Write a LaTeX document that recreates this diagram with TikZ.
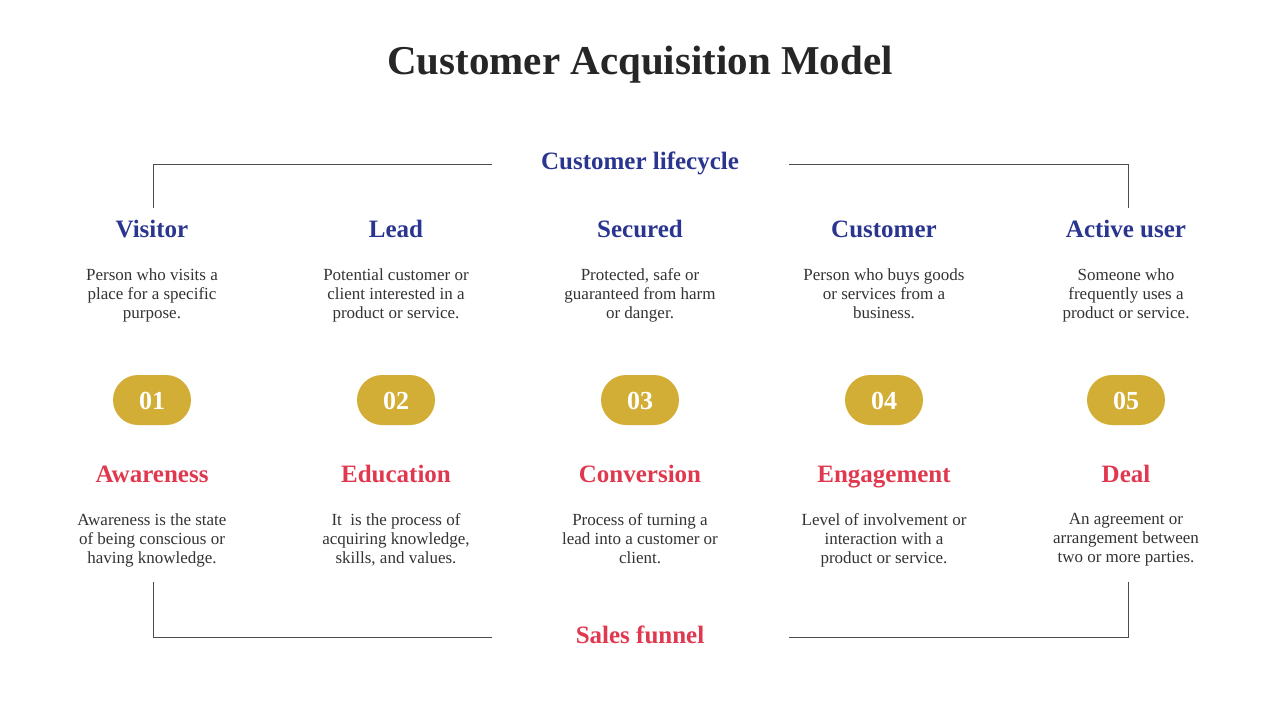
\documentclass[tikz,border=0pt]{standalone}
\usepackage{fontspec}
\setmainfont{Liberation Serif}
\definecolor{blu}{HTML}{2A3590}
\definecolor{rd}{HTML}{E0394F}
\definecolor{gld}{HTML}{D3AE36}
\definecolor{txt}{HTML}{333333}
\begin{document}
\begin{tikzpicture}[x=1pt,y=-1pt,
  title/.style={font=\fontsize{41}{44}\selectfont\bfseries, text=black!85, text height=28pt, text depth=9pt},
  toph/.style={font=\fontsize{25}{28}\selectfont\bfseries, text=blu, text height=17pt, text depth=6pt},
  both/.style={font=\fontsize{25}{28}\selectfont\bfseries, text=rd, text height=17pt, text depth=6pt},
  body/.style={font=\fontsize{17}{19}\selectfont, text=txt, align=center},
  pill/.style={fill=gld, rounded corners=25pt, minimum width=78pt, minimum height=50pt, text=white, font=\fontsize{26}{28}\selectfont\bfseries, text height=18pt, text depth=0pt},
  brk/.style={draw=black!70, line width=0.8pt}]
\useasboundingbox (0,0) rectangle (1280,720);
\node[title] (t) at (640,65) {Customer Acquisition Model};
\node[toph] (cl) at (640,164) {Customer lifecycle};
\node[both] (sf) at (640,638) {Sales funnel};
\coordinate (a1) at (153,208); \coordinate (a2) at (492,164);
\coordinate (b1) at (1128,208); \coordinate (b2) at (789,164);
\coordinate (c1) at (153,582); \coordinate (c2) at (492,637);
\coordinate (d1) at (1128,582); \coordinate (d2) at (789,637);
\draw[brk] (a1) |- (a2); \draw[brk] (b1) |- (b2);
\draw[brk] (c1) |- (c2); \draw[brk] (d1) |- (d2);
\foreach \x/\n/\h/\b/\p/\hh/\bb in {
 152/1/Visitor/{Person who visits a\\place for a specific\\purpose.}/01/Awareness/{Awareness is the state\\of being conscious or\\having knowledge.},
 396/2/Lead/{Potential customer or\\client interested in a\\product or service.}/02/Education/{It\ \ is the process of\\acquiring knowledge,\\skills, and values.},
 640/3/Secured/{Protected, safe or\\guaranteed from harm\\or danger.}/03/Conversion/{Process of turning a\\lead into a customer or\\client.},
 884/4/Customer/{Person who buys goods\\or services from a\\business.}/04/Engagement/{Level of involvement or\\interaction with a\\product or service.},
 1126/5/Active user/{Someone who\\frequently uses a\\product or service.}/05/Deal/{An agreement or\\arrangement between\\two or more parties.}}{
 \node[toph] (h\n) at (\x,232) {\h};
 \node[body, anchor=north] (b\n) at (\x,265) {\b};
 \node[pill] (p\n) at (\x,400) {\p};
 \node[both] (g\n) at (\x,477) {\hh};
 \node[body, anchor=north] (s\n) at (\x,510) {\bb};
}
\end{tikzpicture}
\end{document}
